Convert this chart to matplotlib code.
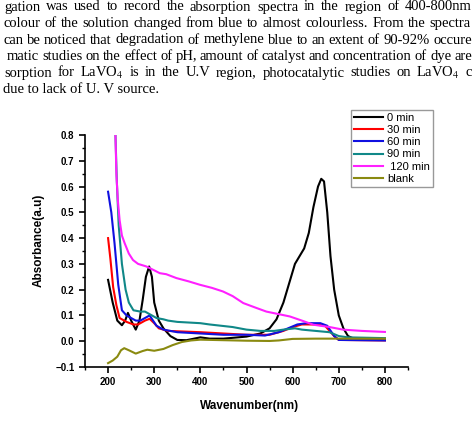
import matplotlib
matplotlib.use("Agg")
import matplotlib.pyplot as plt
from matplotlib.ticker import MultipleLocator

plt.rcParams['mathtext.fontset'] = 'stix'

# ---- data ----
x0 = [200, 210, 220, 230, 237, 243, 250, 260, 268, 275, 282, 289, 295, 300, 310, 320, 335, 350, 370, 400, 420,
      450, 500, 530, 550, 565, 580, 595, 605, 615, 625, 635, 645, 655, 662, 668, 675, 682, 690, 700, 710, 720, 735, 800]
y0 = [0.238, 0.15, 0.08, 0.062, 0.08, 0.11, 0.08, 0.045, 0.08, 0.16, 0.25, 0.29, 0.25, 0.15, 0.08, 0.05, 0.02, 0.005,
      0.004, 0.015, 0.01, 0.01, 0.018, 0.03, 0.05, 0.085, 0.15, 0.24, 0.30, 0.33, 0.36, 0.42, 0.52, 0.60, 0.63, 0.62,
      0.50, 0.33, 0.20, 0.10, 0.05, 0.02, 0.008, 0.005]

x30 = [200, 205, 211, 218, 225, 240, 255, 265, 280, 290, 300, 310, 330, 400, 450, 500, 550, 580, 600, 620, 650, 670,
       680, 690, 700, 800]
y30 = [0.40, 0.32, 0.21, 0.14, 0.09, 0.075, 0.065, 0.065, 0.08, 0.087, 0.07, 0.05, 0.04, 0.035, 0.03, 0.025, 0.025,
       0.04, 0.055, 0.065, 0.065, 0.06, 0.04, 0.02, 0.005, 0.003]

x60 = [200, 207, 214, 222, 230, 240, 250, 260, 270, 280, 290, 305, 320, 350, 400, 450, 500, 540, 570, 590, 610, 630,
       660, 675, 690, 700, 800]
y60 = [0.58, 0.50, 0.38, 0.22, 0.12, 0.10, 0.09, 0.08, 0.08, 0.09, 0.10, 0.06, 0.045, 0.035, 0.03, 0.025, 0.025, 0.022,
       0.035, 0.05, 0.065, 0.07, 0.07, 0.06, 0.02, 0.005, 0.003]

x90 = [216, 219, 223, 230, 238, 245, 255, 270, 280, 290, 305, 320, 330, 350, 400, 420, 470, 500, 530, 560, 580, 605,
       620, 650, 680, 700, 720, 800]
y90 = [0.80, 0.62, 0.45, 0.30, 0.20, 0.15, 0.12, 0.115, 0.115, 0.105, 0.09, 0.085, 0.08, 0.075, 0.07, 0.065, 0.055,
       0.045, 0.04, 0.04, 0.045, 0.05, 0.045, 0.04, 0.035, 0.02, 0.015, 0.012]

x120 = [216, 218, 221, 225, 230, 236, 245, 254, 265, 283, 300, 312, 326, 348, 375, 399, 425, 449, 470, 493, 520, 543,
        570, 594, 620, 645, 680, 709, 750, 800]
y120 = [0.80, 0.65, 0.55, 0.47, 0.41, 0.38, 0.34, 0.315, 0.30, 0.29, 0.275, 0.264, 0.26, 0.245, 0.232, 0.219, 0.207,
        0.193, 0.175, 0.148, 0.13, 0.115, 0.105, 0.096, 0.08, 0.064, 0.055, 0.045, 0.04, 0.036]

xb = [200, 210, 220, 228, 235, 245, 260, 275, 285, 300, 320, 340, 360, 380, 400, 450, 500, 550, 570, 600, 650, 700, 800]
yb = [-0.085, -0.075, -0.06, -0.035, -0.027, -0.035, -0.048, -0.038, -0.033, -0.037, -0.03, -0.015, -0.003, 0.003,
      0.006, 0.004, 0.002, 0.001, 0.003, 0.009, 0.01, 0.01, 0.01]

labels = ["0 min", "30 min", "60 min", "90 min", " 120 min", "blank"]
colors = ["#000000", "#ff0000", "#1010e0", "#108888", "#ff20ff", "#8a8a10"]

text_lines = [
    "gation was used to record the absorption spectra in the region of 400-800nm",
    "colour of the solution changed from blue to almost colourless. From the spectra",
    "can be noticed that degradation of methylene blue to an extent of 90-92% occure",
    "matic studies on the effect of pH, amount of catalyst and concentration of dye are",
    "sorption for LaVO$_4$ is in the U.V region, photocatalytic studies on LaVO$_4$ c",
    "due to lack of U. V source.",
]
text_left = [4, 3, 3, 7, 4, 3]
text_right = [472, 471, 472, 472, 472, None]

# ---- figure ----
W, H = 474, 421
fig = plt.figure(figsize=(W / 100, H / 100), dpi=100)
renderer = fig.canvas.get_renderer()
tkw = dict(family='Liberation Serif', fontsize=10.5, va='center', ha='left')
for i, (t, xl, xr) in enumerate(zip(text_lines, text_left, text_right)):
    yf = 1 - (7 + 16.5 * i) / H
    if xr is None:
        fig.text(xl / W, yf, t, **tkw)
        continue
    words = t.split(' ')
    objs = [fig.text(0, yf, w, **tkw) for w in words]
    widths = [o.get_window_extent(renderer).width for o in objs]
    gap = (xr - xl - sum(widths)) / (len(words) - 1)
    xp = xl
    for o, wd in zip(objs, widths):
        o.set_x(xp / W)
        xp += wd + gap

ax = fig.add_axes([85 / W, 1 - 367 / H, (408 - 85) / W, (367 - 135) / H])
series = [(x0, y0), (x30, y30), (x60, y60), (x90, y90), (x120, y120), (xb, yb)]
for (xs, ys), lab, c in zip(series, labels, colors):
    ax.plot(xs, ys, color=c, lw=1.5, label=lab)

ax.set_xlim(150, 850)
ax.set_ylim(-0.1, 0.8)
ax.set_xticks(range(200, 801, 100))
ax.set_xticks(range(150, 851, 50), minor=True)
ax.yaxis.set_major_locator(MultipleLocator(0.1))
ax.yaxis.set_minor_locator(MultipleLocator(0.05))
ax.spines['top'].set_visible(False)
ax.spines['right'].set_visible(False)
for s in ['left', 'bottom']:
    ax.spines[s].set_linewidth(1.2)
ax.tick_params(which='major', direction='out', length=4, width=1.2, labelsize=7)
ax.tick_params(which='minor', direction='out', length=2, width=1)
for lbl in ax.get_xticklabels() + ax.get_yticklabels():
    lbl.set_fontweight('bold')
    lbl.set_family('Liberation Sans')

fig.text(250 / W, 1 - 406 / H, "Wavenumber(nm)", family='Liberation Sans', fontweight='bold',
         fontsize=8.5, ha='center', va='center')
fig.text(39 / W, 1 - 240 / H, "Absorbance(a.u)", family='Liberation Sans', fontweight='bold',
         fontsize=8.5, ha='center', va='center', rotation=90)

leg = ax.legend(loc='upper left', bbox_to_anchor=(351 / W, 1 - 110 / H), bbox_transform=fig.transFigure,
                borderaxespad=0, fancybox=False, framealpha=1, edgecolor='#999999',
                prop={'family': 'Liberation Sans', 'size': 8}, labelspacing=0.2, handlelength=2.6,
                handletextpad=0.4, borderpad=0.25)
leg.get_frame().set_linewidth(1.0)

fig.savefig("out.png", dpi=100)
